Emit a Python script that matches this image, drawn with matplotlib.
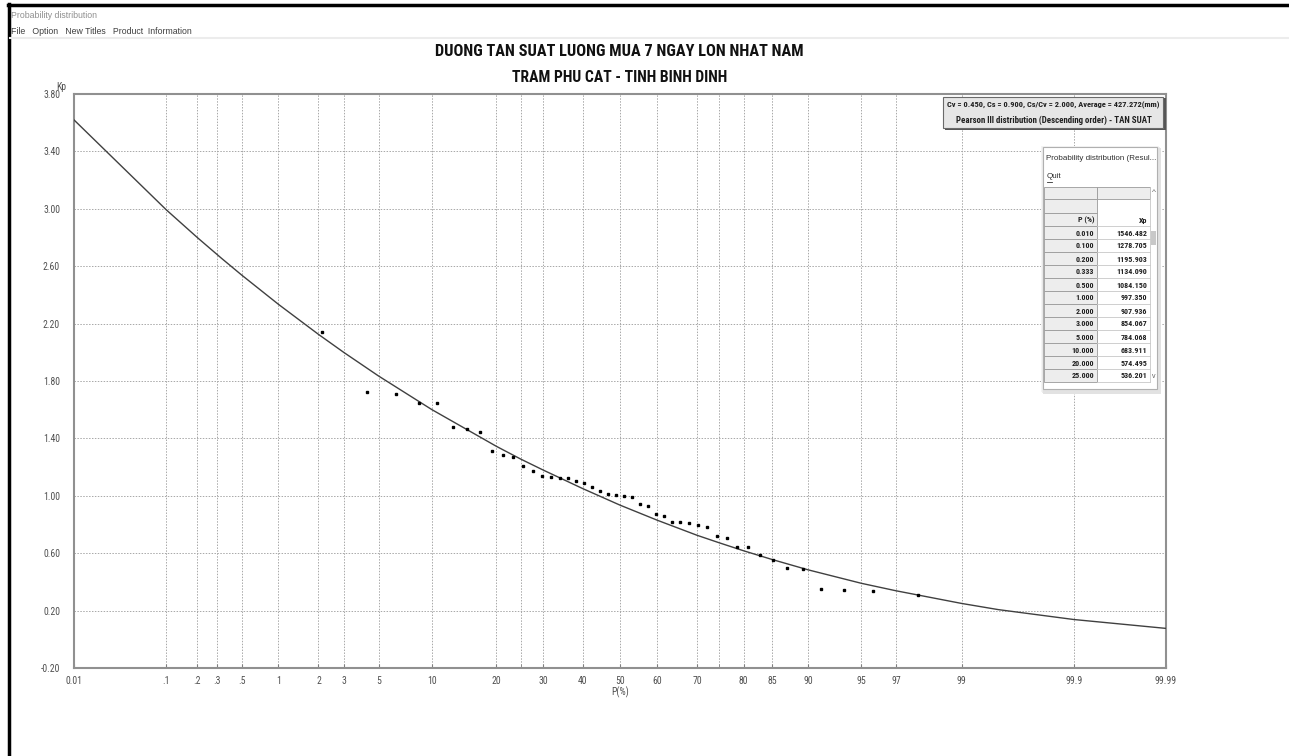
import numpy as np
import matplotlib
matplotlib.use('Agg')
import matplotlib.pyplot as plt
from matplotlib.patches import Rectangle
from matplotlib.lines import Line2D
from matplotlib import font_manager
from statistics import NormalDist

# Pearson III table shown in the result window
p_table = [0.01, 0.1, 0.2, 0.333, 0.5, 1, 2, 3, 5, 10, 20, 25]
xp_table = [1546.482, 1278.705, 1195.903, 1134.090, 1084.150, 997.350,
            907.936, 854.067, 784.068, 683.911, 574.495, 536.201]
average = 427.272

# rest of the fitted curve
p_tail = [30, 40, 50, 60, 70, 75, 80, 85, 90, 95, 97, 99, 99.5, 99.9, 99.99]
kp_tail = [1.18, 1.05, 0.935, 0.83, 0.725, 0.673, 0.617, 0.556, 0.484,
           0.39, 0.338, 0.25, 0.207, 0.138, 0.076]

# observed points (empirical frequency, Kp)
p_obs = [2.13, 4.26, 6.38, 8.51, 10.64, 12.77, 14.89, 17.02, 19.15, 21.28,
         23.40, 25.53, 27.66, 29.79, 31.91, 34.04, 36.17, 38.30, 40.43, 42.55,
         44.68, 46.81, 48.94, 51.06, 53.19, 55.32, 57.45, 59.57, 61.70, 63.83,
         65.96, 68.09, 70.21, 72.34, 74.47, 76.60, 78.72, 80.85, 82.98, 85.11,
         87.23, 89.36, 91.49, 93.62, 95.74, 97.87]
kp_obs = [2.144, 1.724, 1.712, 1.649, 1.648, 1.477, 1.463, 1.442, 1.309, 1.281,
          1.270, 1.207, 1.172, 1.135, 1.130, 1.125, 1.122, 1.100, 1.091, 1.061,
          1.033, 1.014, 1.004, 0.998, 0.992, 0.942, 0.930, 0.870, 0.860, 0.819,
          0.814, 0.807, 0.795, 0.784, 0.721, 0.705, 0.646, 0.645, 0.588, 0.553,
          0.498, 0.488, 0.351, 0.346, 0.335, 0.311]

x_ticks = [0.01, 0.1, 0.2, 0.3, 0.5, 1, 2, 3, 5, 10, 20, 30, 40, 50, 60, 70,
           80, 85, 90, 95, 97, 99, 99.9, 99.99]
x_labels = ['0.01', '.1', '.2', '.3', '.5', '1', '2', '3', '5', '10', '20', '30',
            '40', '50', '60', '70', '80', '85', '90', '95', '97', '99', '99.9', '99.99']
x_minor = [25, 75]
y_ticks = [-0.2, 0.2, 0.6, 1.0, 1.4, 1.8, 2.2, 2.6, 3.0, 3.4, 3.8]

W, H = 1289, 756


def pick_font(names):
    for n in names:
        try:
            font_manager.findfont(n, fallback_to_default=False)
            return n
        except Exception:
            pass
    return 'DejaVu Sans'


narrow = pick_font(['Liberation Sans Narrow', 'Arial Narrow', 'Roboto Condensed',
                    'IBM Plex Sans Condensed', 'Open Sans Condensed'])
plain = pick_font(['Liberation Sans', 'DejaVu Sans'])

nd = NormalDist()


def z(p):
    return np.array([nd.inv_cdf(v / 100.0) for v in p])


def fx(x):
    return x / W


def fy(y):
    return 1 - y / H


fig = plt.figure(figsize=(W / 100, H / 100), dpi=100)
fig.patch.set_facecolor('white')
renderer = fig.canvas.get_renderer()


def fit(t, width_px):
    w = t.get_window_extent(renderer=renderer).width
    t.set_fontsize(t.get_fontsize() * width_px / w)


# window chrome
fig.add_artist(Line2D([fx(9), fx(9)], [fy(4), 0], color='black', lw=2.5))
fig.add_artist(Line2D([fx(8), 1], [fy(5), fy(5)], color='black', lw=2.5))
fig.add_artist(Line2D([fx(10), 1], [fy(38), fy(38)], color='#ececec', lw=1.5))
fig.text(fx(11), fy(15), 'Probability distribution', fontsize=6.3, color='#909090',
         family=plain, va='center')
fig.text(fx(11), fy(32), 'File   Option   New Titles   Product  Information', fontsize=6.3,
         color='#404040', family=plain, va='center')

# title
t1 = fig.text(fx(619), fy(51), 'DUONG TAN SUAT LUONG MUA 7 NGAY LON NHAT NAM', fontsize=12,
              weight='bold', family=narrow, ha='center', va='center', color='#111111')
t2 = fig.text(fx(620), fy(77), 'TRAM PHU CAT - TINH BINH DINH', fontsize=12,
              weight='bold', family=narrow, ha='center', va='center', color='#111111')
fit(t1, 368)
fit(t2, 216)

ax = fig.add_axes([fx(74), fy(668), (1166 - 74) / W, (668 - 94) / H])

kp_curve = list(np.array(xp_table) / average) + kp_tail
p_curve = p_table + p_tail
ax.plot(z(p_curve), kp_curve, color='#404040', lw=1.0, zorder=3)
ax.plot(z(p_obs), kp_obs, 's', color='black', ms=2.0, zorder=4)

ax.set_xlim(z([0.01])[0], z([99.99])[0])
ax.set_ylim(-0.2, 3.8)
ax.set_xticks(z(x_ticks))
ax.set_xticklabels(x_labels)
ax.set_xticks(z(x_minor), minor=True)
ax.set_yticks(y_ticks)
ax.set_yticklabels(['%.2f' % v for v in y_ticks])
ax.grid(which='both', axis='both', color='#a8a8a8', linestyle=(0, (1.5, 1.5)), lw=0.7)
ax.tick_params(axis='x', which='both', direction='in', length=3, color='#808080',
               labelsize=7, labelcolor='#505050', pad=6)
ax.tick_params(axis='y', length=0, labelsize=7, labelcolor='#505050', pad=10)
for lab in ax.get_xticklabels() + ax.get_yticklabels():
    lab.set_family(narrow)
for s in ax.spines.values():
    s.set_color('#909090')
    s.set_linewidth(1.5)
ax.set_xlabel('P(%)', fontsize=7, color='#505050', family=narrow, labelpad=0)
fig.text(fx(61), fy(87), 'Kp', fontsize=7, color='#505050', family=narrow,
         ha='center', va='center')

# info box
fig.add_artist(Rectangle((fx(945), fy(130)), (1166 - 945) / W, 32 / H,
                         facecolor='#555555', edgecolor='none'))
fig.add_artist(Rectangle((fx(943), fy(128)), (1163 - 943) / W, 31 / H,
                         facecolor='#e6e6e6', edgecolor='#6a6a6a', lw=0.8))
b1 = fig.text(fx(1053), fy(105), 'Cv = 0.450, Cs = 0.900, Cs/Cv = 2.000, Average = 427.272(mm)',
              fontsize=6, weight='bold', family=narrow, ha='center', va='center', color='#202020')
b2 = fig.text(fx(1054), fy(120), 'Pearson III distribution (Descending order) - TAN SUAT',
              fontsize=6, weight='bold', family=narrow, ha='center', va='center', color='#202020')
fit(b1, 214)
fit(b2, 197)

# result window
for i, c in enumerate(['#f4f4f4', '#ececec', '#e2e2e2']):
    fig.add_artist(Rectangle((fx(1041 + i), fy(392 + i)), 118 / W, 246 / H,
                             facecolor=c, edgecolor='none'))
fig.add_artist(Rectangle((fx(1043), fy(389)), (1157 - 1043) / W, (389 - 147) / H,
                         facecolor='white', edgecolor='#b0b0b0', lw=0.8))
fig.text(fx(1046), fy(158), 'Probability distribution (Resul...', fontsize=5.8,
         family=plain, va='center', color='#303030')
fig.text(fx(1047), fy(177), 'Quit', fontsize=5.8, family=plain, va='center', color='#303030')
fig.add_artist(Line2D([fx(1047), fx(1052)], [fy(182), fy(182)], color='#303030', lw=0.6))

fig.add_artist(Rectangle((fx(1044), fy(199)), (1097 - 1044) / W, 12 / H,
                         facecolor='#ededed', edgecolor='#9a9a9a', lw=0.6))
fig.add_artist(Rectangle((fx(1097), fy(199)), (1150 - 1097) / W, 12 / H,
                         facecolor='#ededed', edgecolor='#9a9a9a', lw=0.6))
fig.add_artist(Rectangle((fx(1044), fy(213)), (1097 - 1044) / W, 14 / H,
                         facecolor='#ededed', edgecolor='#9a9a9a', lw=0.6))
rows = [('P (%)', 'Xp')] + [('%.3f' % p, '%.3f' % x) for p, x in zip(p_table, xp_table)]
for i, (a, b) in enumerate(rows):
    y0 = 213 + 13 * i
    fig.add_artist(Rectangle((fx(1044), fy(y0 + 13)), (1097 - 1044) / W, 13 / H,
                             facecolor='#ededed', edgecolor='#9a9a9a', lw=0.6))
    fig.add_artist(Line2D([fx(1097), fx(1150)], [fy(y0 + 13), fy(y0 + 13)],
                          color='#c8c8c8', lw=0.6))
    fig.text(fx(1094), fy(y0 + 7), a, fontsize=5.8, weight='bold', family=narrow,
             ha='right', va='center', color='#202020')
    fig.text(fx(1147), fy(y0 + 7), b, fontsize=5.8, weight='bold', family=narrow,
             ha='right', va='center', color='#202020')
fig.add_artist(Line2D([fx(1150), fx(1150)], [fy(187), fy(382)], color='#c8c8c8', lw=0.6))
fig.add_artist(Rectangle((fx(1151), fy(245)), 5 / W, 14 / H,
                         facecolor='#c8c8c8', edgecolor='none'))
fig.text(fx(1153.5), fy(193), '^', fontsize=6, family=plain, ha='center', va='center',
         color='#606060')
fig.text(fx(1153.5), fy(376), 'v', fontsize=5, family=plain, ha='center', va='center',
         color='#606060')

fig.savefig('out.png', dpi=100)
